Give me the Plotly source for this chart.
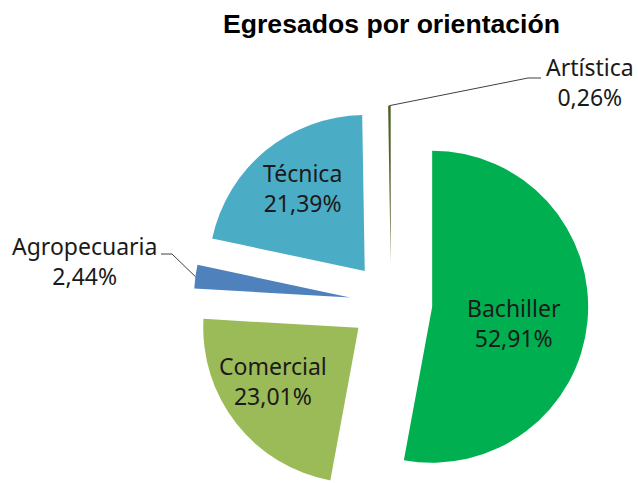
import math
import plotly.graph_objects as go

# ---- data ----
labels = ["Bachiller", "Comercial", "Agropecuaria", "Técnica", "Artística"]
values = [52.91, 23.01, 2.44, 21.39, 0.26]
colors = ["#00B050", "#9BBB59", "#4F81BD", "#4BACC6", "#4F6228"]
title_text = "Egresados por orientación"

# ---- geometry (pixels) ----
W, H = 638, 483
CX, CY = 391.0, 303.0      # common centre of the (un-exploded) pie
R = 156.0                  # pie radius
PULL = 0.265 * R           # explosion distance

# label centres (pixels) for each slice
label_pos = [(514, 323), (273, 381), (84, 261), (302, 188), (590, 82)]

total = sum(values)
mids = []
acc = 0.0
for v in values:
    mids.append(360.0 * (acc + v / 2) / total)
    acc += v


def fmt(v):
    return f"{v:.2f}".replace(".", ",") + "%"


def clip(a):
    return max(0.0, min(1.0, a))


fig = go.Figure()
centres = []
for k in range(len(values)):
    th = math.radians(mids[k])
    cx = CX + PULL * math.sin(th)
    cy = CY - PULL * math.cos(th)
    centres.append((cx, cy))
    cols = [colors[i] if i == k else "rgba(0,0,0,0)" for i in range(len(values))]
    fig.add_trace(go.Pie(
        labels=labels, values=values, sort=False, direction="clockwise", rotation=0,
        marker=dict(colors=cols, line=dict(width=0)),
        textinfo="none",
        domain=dict(x=[clip((cx - R) / W), clip((cx + R) / W)],
                    y=[clip(1 - (cy + R) / H), clip(1 - (cy - R) / H)]),
        showlegend=False, hoverinfo="label+percent",
    ))


def edge(k):
    th = math.radians(mids[k])
    cx, cy = centres[k]
    return cx + R * math.sin(th), cy - R * math.cos(th)


def P(x, y):
    return f"{x / W:.5f} {1 - y / H:.5f}"


# leader lines for the two small slices
i_agro = labels.index("Agropecuaria")
ex, ey = edge(i_agro)
shapes = [dict(type="path", xref="paper", yref="paper",
               path=f"M {P(ex, ey)} L {P(172, 254)} L {P(161, 254)}",
               line=dict(color="#404040", width=1))]
i_art = labels.index("Artística")
ex, ey = edge(i_art)
shapes.append(dict(type="path", xref="paper", yref="paper",
                   path=f"M {P(ex, ey)} L {P(528, 78)} L {P(541, 78)}",
                   line=dict(color="#404040", width=1)))

annotations = []
for k in range(len(values)):
    x, y = label_pos[k]
    annotations.append(dict(
        text=f"{labels[k]}<br>{fmt(values[k])}", x=x / W, y=1 - y / H,
        xref="paper", yref="paper", showarrow=False, xanchor="center", yanchor="middle",
        font=dict(family="Noto Sans", size=23, color="#1a1a1a")))

fig.update_layout(
    width=W, height=H,
    margin=dict(l=0, r=0, t=0, b=0),
    paper_bgcolor="white", plot_bgcolor="white",
    title=dict(text=f"<b>{title_text}</b>", x=391.5 / W, xanchor="center",
               y=1 - 24 / H, yref="container", yanchor="middle",
               font=dict(family="Liberation Sans", size=26.6, color="black")),
    shapes=shapes, annotations=annotations,
)

fig.write_html("out.html", config={"displayModeBar": False},
               post_script="document.body.style.margin='0px';")
